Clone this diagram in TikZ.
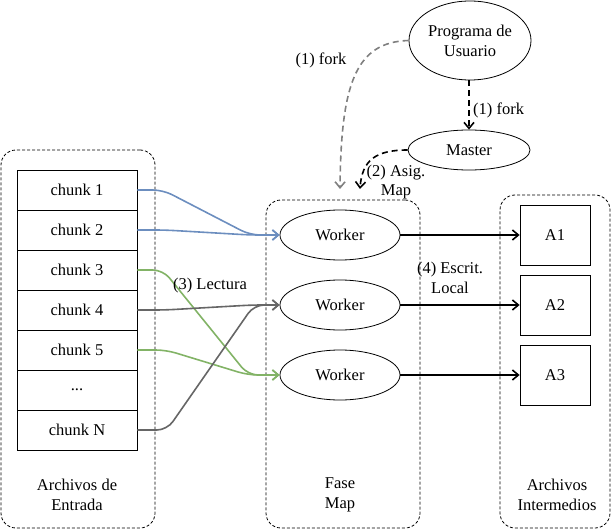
\documentclass[tikz,border=0pt]{standalone}
\usepackage{fontspec}
\setmainfont{Liberation Serif}
\usetikzlibrary{arrows.meta,shapes.geometric}
\definecolor{cblue}{HTML}{6C8EBF}
\definecolor{cgreen}{HTML}{82B366}
\definecolor{cgray}{HTML}{666666}
\definecolor{cfork}{HTML}{808080}
\begin{document}
\begin{tikzpicture}[x=1bp,y=-1bp,
  every node/.style={font=\fontsize{16.5bp}{19.8bp}\selectfont, inner sep=0pt, align=center},
  container/.style={draw, dash pattern=on 3bp off 2bp, rounded corners=15bp, line width=0.8bp},
  chunkbox/.style={draw, line width=0.8bp, minimum width=120bp, minimum height=40bp},
  worker/.style={draw, ellipse, line width=0.8bp, minimum width=120bp, minimum height=50bp},
  filebox/.style={draw, line width=0.8bp, minimum width=70bp, minimum height=60bp},
  conn/.style={line width=1.6bp, -{Straight Barb[length=6bp,width=10bp]}, rounded corners=10bp},
  forkline/.style={line width=1.6bp, dash pattern=on 6bp off 4bp, -{Straight Barb[length=6bp,width=10bp]}},
]
\useasboundingbox (0,0) rectangle (611,531);

% containers
\node[container, minimum width=154bp, minimum height=378bp] (inbox) at (78,339) {};
\node[container, minimum width=154bp, minimum height=328bp] (mapbox) at (343,364) {};
\node[container, minimum width=110bp, minimum height=333bp] (outbox) at (555,361.5) {};

\node (inlab) at (77,495) {Archivos de\\Entrada};
\node (maplab) at (340,495) {Fase\\Map};
\node (outlab) at (557,495) {Archivos\\Intermedios};

% chunks
\node[chunkbox] (c1) at (77,190) {chunk 1};
\node[chunkbox] (c2) at (77,230) {chunk 2};
\node[chunkbox] (c3) at (77,270) {chunk 3};
\node[chunkbox] (c4) at (77,310) {chunk 4};
\node[chunkbox] (c5) at (77,350) {chunk 5};
\node[chunkbox] (cd) at (77,390) {...};
\node[chunkbox] (cN) at (77,430) {chunk N};

% workers
\node[worker] (w1) at (340,235) {Worker};
\node[worker] (w2) at (340,305) {Worker};
\node[worker] (w3) at (340,375) {Worker};

% files
\node[filebox] (a1) at (555,235) {A1};
\node[filebox] (a2) at (555,305) {A2};
\node[filebox] (a3) at (555,375) {A3};

% top
\node[draw, ellipse, line width=0.8bp, minimum width=122bp, minimum height=79bp] (prog) at (470,40.5) {Programa de\\Usuario};
\node[draw, ellipse, line width=0.8bp, minimum width=122bp, minimum height=40bp] (master) at (469,150) {Master};

\coordinate (forkend) at (340,189);
\coordinate (asigend) at (360,189);

\draw[forkline, cfork] (prog.west) .. controls (355,42) and (341,85) .. (forkend);
\draw[forkline, black] (prog.south -| master.north) -- (master.north);
\draw[forkline, black] (master.west) .. controls (376,150) and (362,160) .. (asigend);

\node (fork1) at (321,60) {(1) fork};
\node[anchor=west] (fork2) at (473,110) {(1) fork};
\node (asig) at (396,182) {(2) Asig.\\Map};

% reading connectors
\draw[conn, cblue] (c1.east) -- (163,190) -- (250,235) -- (w1.west);
\draw[conn, cblue] (c2.east) -- (165,230) -- (250,235) -- (w1.west);
\draw[conn, cgreen] (c3.east) -- (163,270) -- (248,375) -- (w3.west);
\draw[conn, cgreen] (c5.east) -- (166,350) -- (248,375) -- (w3.west);
\draw[conn, cgray] (c4.east) -- (165,310) -- (252,305) -- (w2.west);
\draw[conn, cgray] (cN.east) -- (167,430) -- (254,305) -- (w2.west);

\node (lect) at (210,286) {(3) Lectura};

% writing connectors
\draw[conn] (w1.east) -- (a1.west);
\draw[conn] (w2.east) -- (a2.west);
\draw[conn] (w3.east) -- (a3.west);

\node (escr) at (450,278) {(4) Escrit.\\Local};
\end{tikzpicture}
\end{document}
